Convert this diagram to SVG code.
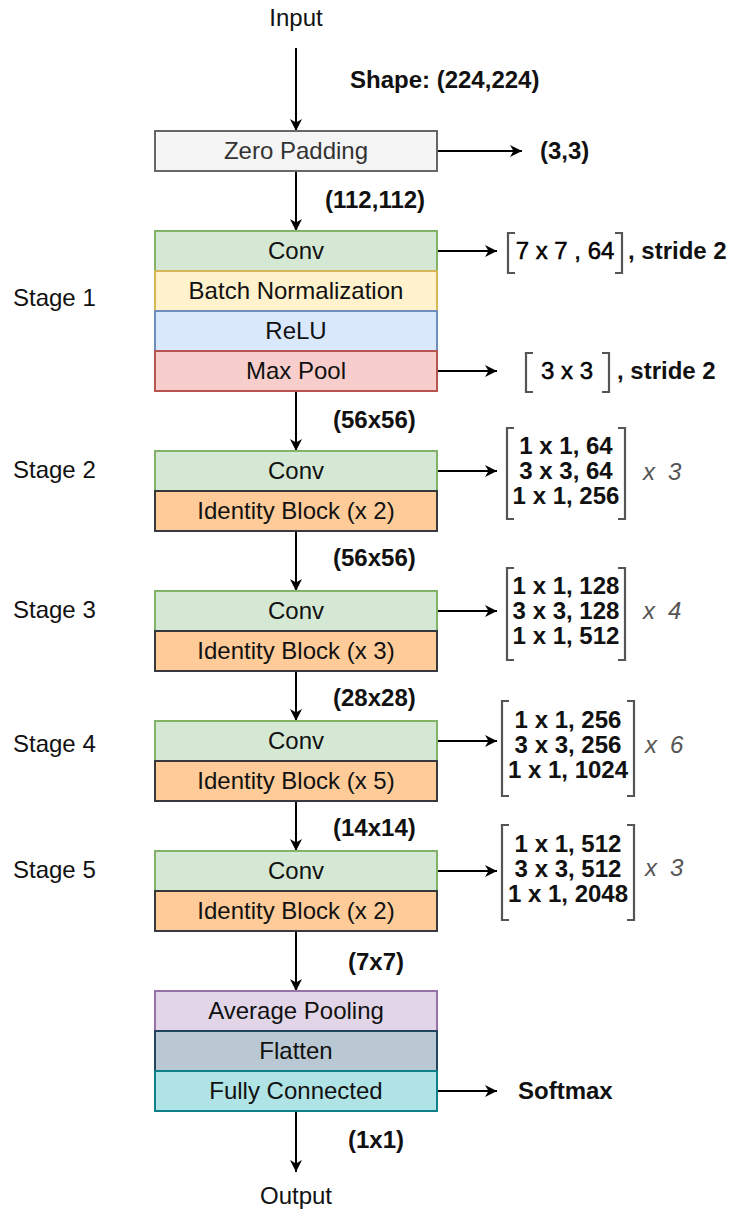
<svg xmlns="http://www.w3.org/2000/svg" width="735" height="1214" viewBox="0 0 735 1214">
<defs>
<marker id="arr" markerWidth="14" markerHeight="14" refX="12" refY="7" orient="auto" markerUnits="userSpaceOnUse">
<path d="M0,1 L12,7 L0,13 L3.5,7 z" fill="#000"/>
</marker>
<style>
text{font-family:"Liberation Sans",Arial,sans-serif;font-size:24px;fill:#111}
.c{text-anchor:middle}
.b{font-weight:bold}
.k{fill:#000;stroke:#000;stroke-width:0.5}
.it{font-style:italic;fill:#555}
.zp{fill:#333}
.edge{stroke:#000;stroke-width:2;fill:none;marker-end:url(#arr)}
.brk{stroke:#555;stroke-width:2.2;fill:none}
.box{stroke-width:2}
.g{fill:#f5f5f5;stroke:#666}
.cv{fill:#d5e8d4;stroke:#82b366}
.bn{fill:#fff2cc;stroke:#d6b656}
.re{fill:#dae8fc;stroke:#6c8ebf}
.mp{fill:#f8cecc;stroke:#b85450}
.id{fill:#ffcc99;stroke:#36393d}
.ap{fill:#e1d5e7;stroke:#9673a6}
.fl{fill:#bac8d3;stroke:#23445d}
.fc{fill:#b0e3e6;stroke:#0e8088}
</style>
</defs>

<g id="connectors">
<line class="edge" x1="296" y1="48" x2="296" y2="131"/>
<line class="edge" x1="437" y1="151" x2="522" y2="151"/>
<line class="edge" x1="296" y1="171" x2="296" y2="231"/>
<line class="edge" x1="437" y1="251" x2="497" y2="251"/>
<line class="edge" x1="437" y1="371" x2="497" y2="371"/>
<line class="edge" x1="296" y1="391" x2="296" y2="451"/>
<line class="edge" x1="437" y1="471" x2="497" y2="471"/>
<line class="edge" x1="296" y1="531" x2="296" y2="591"/>
<line class="edge" x1="437" y1="611" x2="497" y2="611"/>
<line class="edge" x1="296" y1="671" x2="296" y2="721"/>
<line class="edge" x1="437" y1="741" x2="497" y2="741"/>
<line class="edge" x1="296" y1="801" x2="296" y2="851"/>
<line class="edge" x1="437" y1="871" x2="497" y2="871"/>
<line class="edge" x1="296" y1="931" x2="296" y2="991"/>
<line class="edge" x1="437" y1="1091" x2="497" y2="1091"/>
<line class="edge" x1="296" y1="1111" x2="296" y2="1172"/>
</g>

<g id="labels">
<text class="c" x="296" y="26">Input</text>
<text class="b" x="350" y="88">Shape: (224,224)</text>
<text class="b" x="540" y="159">(3,3)</text>
<text class="b" x="325" y="208">(112,112)</text>
<text class="b" x="333" y="428">(56x56)</text>
<text class="b" x="333" y="566">(56x56)</text>
<text class="b" x="333" y="706">(28x28)</text>
<text class="b" x="333" y="836">(14x14)</text>
<text class="b" x="348" y="970">(7x7)</text>
<text class="b" x="518" y="1099">Softmax</text>
<text class="b" x="348" y="1148">(1x1)</text>
<text class="c" x="296" y="1204">Output</text>
<text x="13" y="306">Stage 1</text>
<text x="13" y="478">Stage 2</text>
<text x="13" y="618">Stage 3</text>
<text x="13" y="752">Stage 4</text>
<text x="13" y="878">Stage 5</text>
</g>

<g id="zero-padding">
<rect class="box g" x="155" y="131" width="282" height="40"/>
<text class="c zp" x="296" y="159">Zero Padding</text>
</g>

<g id="stage1">
<rect class="box cv" x="155" y="231" width="282" height="40"/>
<text class="c" x="296" y="259">Conv</text>
<rect class="box bn" x="155" y="271" width="282" height="40"/>
<text class="c" x="296" y="299">Batch Normalization</text>
<rect class="box re" x="155" y="311" width="282" height="40"/>
<text class="c" x="296" y="339">ReLU</text>
<rect class="box mp" x="155" y="351" width="282" height="40"/>
<text class="c" x="296" y="379">Max Pool</text>
</g>

<g id="stage1-params">
<path class="brk" d="M515,233 H508 V273 H515 M615,233 H622 V273 H615"/>
<text class="c k" x="565" y="259">7 x 7 , 64</text>
<text class="b" x="628" y="259">, stride 2</text>
<path class="brk" d="M533,353 H526 V392 H533 M602,353 H609 V392 H602"/>
<text class="c k" x="567" y="379">3 x 3</text>
<text class="b" x="617" y="379">, stride 2</text>
</g>

<g id="stage2">
<rect class="box cv" x="155" y="451" width="282" height="40"/>
<text class="c" x="296" y="479">Conv</text>
<rect class="box id" x="155" y="491" width="282" height="40"/>
<text class="c" x="296" y="519">Identity Block (x 2)</text>
<path class="brk" d="M514,428 H507 V519 H514 M618,428 H625 V519 H618"/>
<text class="c b" x="566" y="454">1 x 1, 64</text>
<text class="c b" x="566" y="479">3 x 3, 64</text>
<text class="c b" x="566" y="504">1 x 1, 256</text>
<text class="it" x="643" y="480">x<tspan x="668">3</tspan></text>
</g>

<g id="stage3">
<rect class="box cv" x="155" y="591" width="282" height="40"/>
<text class="c" x="296" y="619">Conv</text>
<rect class="box id" x="155" y="631" width="282" height="40"/>
<text class="c" x="296" y="659">Identity Block (x 3)</text>
<path class="brk" d="M514,568 H507 V660 H514 M618,568 H625 V660 H618"/>
<text class="c b" x="566" y="594">1 x 1, 128</text>
<text class="c b" x="566" y="619">3 x 3, 128</text>
<text class="c b" x="566" y="644">1 x 1, 512</text>
<text class="it" x="643" y="619">x<tspan x="668">4</tspan></text>
</g>

<g id="stage4">
<rect class="box cv" x="155" y="721" width="282" height="40"/>
<text class="c" x="296" y="749">Conv</text>
<rect class="box id" x="155" y="761" width="282" height="40"/>
<text class="c" x="296" y="789">Identity Block (x 5)</text>
<path class="brk" d="M509,701 H502 V796 H509 M627,701 H634 V796 H627"/>
<text class="c b" x="568" y="728">1 x 1, 256</text>
<text class="c b" x="568" y="753">3 x 3, 256</text>
<text class="c b" x="568" y="778">1 x 1, 1024</text>
<text class="it" x="645" y="753">x<tspan x="670">6</tspan></text>
</g>

<g id="stage5">
<rect class="box cv" x="155" y="851" width="282" height="40"/>
<text class="c" x="296" y="879">Conv</text>
<rect class="box id" x="155" y="891" width="282" height="40"/>
<text class="c" x="296" y="919">Identity Block (x 2)</text>
<path class="brk" d="M509,825 H502 V920 H509 M627,825 H634 V920 H627"/>
<text class="c b" x="568" y="852">1 x 1, 512</text>
<text class="c b" x="568" y="877">3 x 3, 512</text>
<text class="c b" x="568" y="902">1 x 1, 2048</text>
<text class="it" x="645" y="876">x<tspan x="670">3</tspan></text>
</g>

<g id="head">
<rect class="box ap" x="155" y="991" width="282" height="40"/>
<text class="c" x="296" y="1019">Average Pooling</text>
<rect class="box fl" x="155" y="1031" width="282" height="40"/>
<text class="c" x="296" y="1059">Flatten</text>
<rect class="box fc" x="155" y="1071" width="282" height="40"/>
<text class="c" x="296" y="1099">Fully Connected</text>
</g>
</svg>
